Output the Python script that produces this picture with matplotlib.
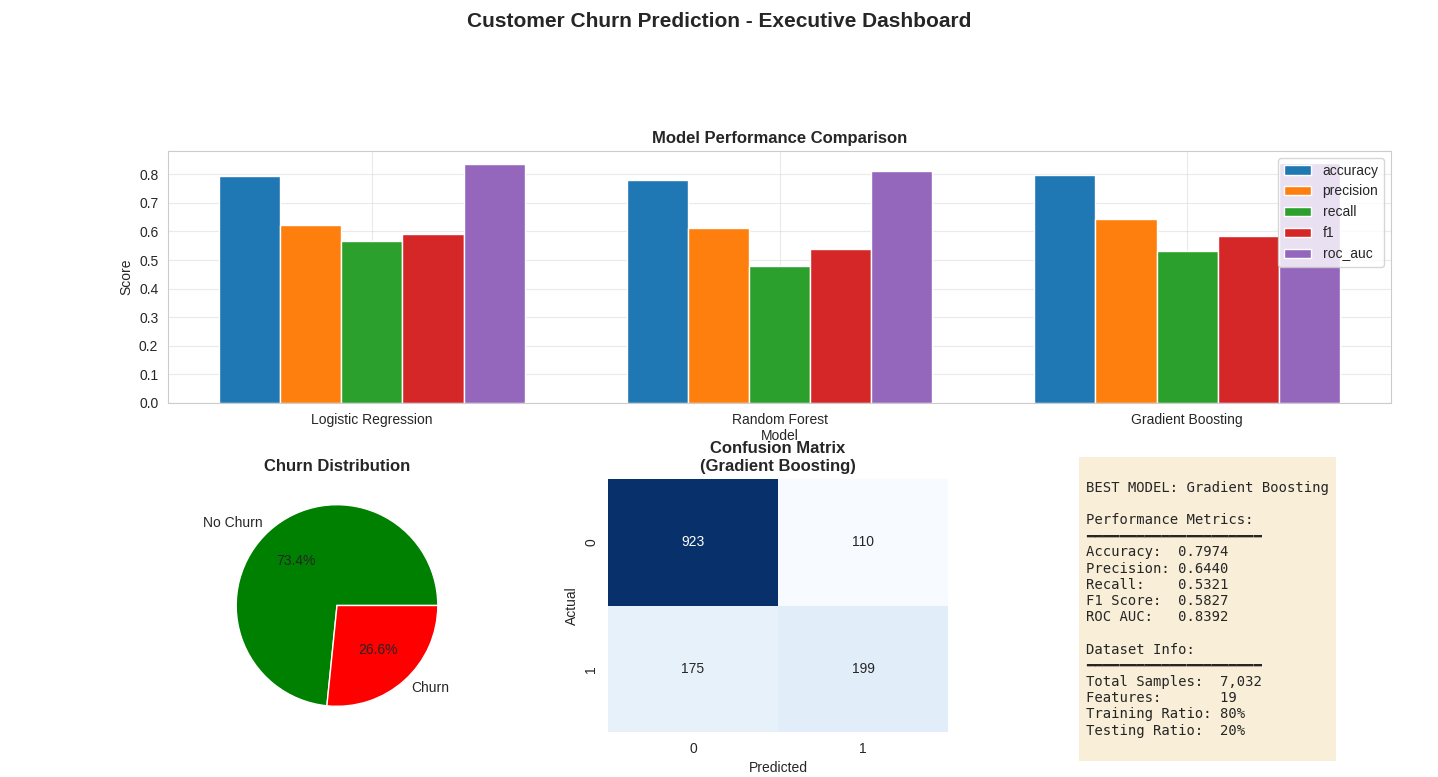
import matplotlib
matplotlib.use("Agg")
import matplotlib.pyplot as plt
import numpy as np
import seaborn as sns

sns.set_style("whitegrid")
plt.rcParams["font.family"] = ["Liberation Sans", "DejaVu Sans"]

MODELS = ["Logistic Regression", "Random Forest", "Gradient Boosting"]
METRICS = ["accuracy", "precision", "recall", "f1", "roc_auc"]
SCORES = {
    "accuracy": [0.794, 0.780, 0.7974],
    "precision": [0.622, 0.613, 0.6440],
    "recall": [0.565, 0.480, 0.5321],
    "f1": [0.592, 0.537, 0.5827],
    "roc_auc": [0.835, 0.810, 0.8392],
}
METRIC_COLORS = ["#1f77b4", "#ff7f0e", "#2ca02c", "#d62728", "#9467bd"]

CHURN_LABELS = ["No Churn", "Churn"]
CHURN_SHARE = [73.4, 26.6]

CONF_MATRIX = np.array([[923, 110], [175, 199]])

SUMMARY = (
    "\nBEST MODEL: Gradient Boosting\n\n"
    "Performance Metrics:\n"
    "━━━━━━━━━━━━━━━━━━━━━\n"
    "Accuracy:  0.7974\n"
    "Precision: 0.6440\n"
    "Recall:    0.5321\n"
    "F1 Score:  0.5827\n"
    "ROC AUC:   0.8392\n\n"
    "Dataset Info:\n"
    "━━━━━━━━━━━━━━━━━━━━━\n"
    "Total Samples:  7,032\n"
    "Features:       19\n"
    "Training Ratio: 80%\n"
    "Testing Ratio:  20%\n"
)

W, H = 1438, 777
fig = plt.figure(figsize=(W / 100, H / 100), dpi=100)


def box(x0, y0, x1, y1):
    return [x0 / W, 1 - y1 / H, (x1 - x0) / W, (y1 - y0) / H]


fig.suptitle("Customer Churn Prediction - Executive Dashboard", fontsize=15, fontweight="bold", y=0.985)

# model comparison
ax = fig.add_axes(box(168, 151, 1391, 403))
x = np.arange(len(MODELS))
width = 0.75 / len(METRICS)
for i, (metric, color) in enumerate(zip(METRICS, METRIC_COLORS)):
    ax.bar(x + (i - 2) * width, SCORES[metric], width, color=color, label=metric, edgecolor="white")
ax.set_xticks(x, MODELS)
ax.set_xlim(-0.5, 2.5)
ax.set_xlabel("Model", labelpad=2)
ax.set_ylabel("Score")
ax.set_title("Model Performance Comparison", fontsize=12, fontweight="bold")
ax.grid(True, alpha=0.4)
ax.legend(loc="upper right", frameon=True)

# churn distribution
ax_pie = fig.add_axes(box(211, 479, 463, 732))
ax_pie.pie(CHURN_SHARE, labels=CHURN_LABELS, colors=["green", "red"], autopct="%1.1f%%",
           wedgeprops={"edgecolor": "white"})
ax_pie.set_title("Churn Distribution", fontsize=12, fontweight="bold")

# confusion matrix
ax_cm = fig.add_axes(box(608, 479, 948, 732))
sns.heatmap(CONF_MATRIX, annot=True, fmt="d", cmap="Blues", cbar=False, ax=ax_cm)
ax_cm.set_title("Confusion Matrix\n(Gradient Boosting)", fontsize=12, fontweight="bold")
ax_cm.set_xlabel("Predicted")
ax_cm.set_ylabel("Actual")

# summary text
ax_txt = fig.add_axes(box(1080, 460, 1391, 752))
ax_txt.axis("off")
ax_txt.text(0.02, 0.985, SUMMARY, transform=ax_txt.transAxes, family="DejaVu Sans Mono",
            fontsize=10, va="top", linespacing=1.2,
            bbox=dict(boxstyle="square,pad=0.5", facecolor="wheat", alpha=0.5, edgecolor="none"))

fig.savefig("out.png", dpi=100)
